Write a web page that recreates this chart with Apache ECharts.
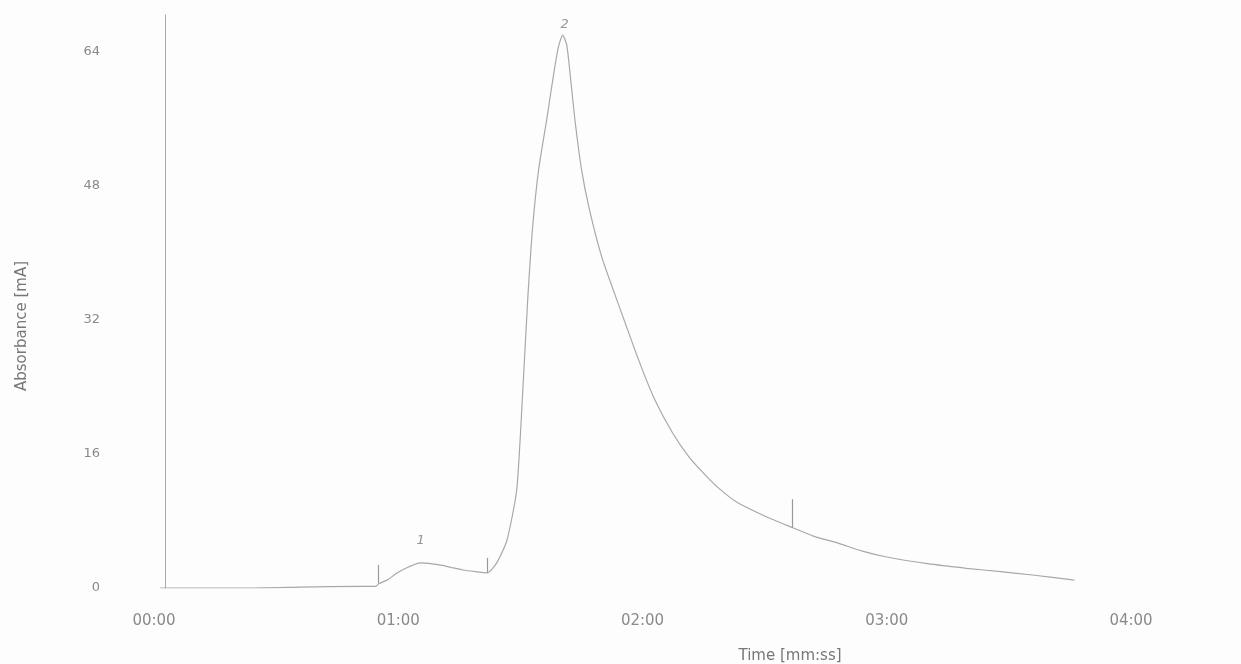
<!DOCTYPE html>
<html>
<head>
<meta charset="utf-8">
<script src="https://cdn.jsdelivr.net/npm/echarts@6/dist/echarts.min.js"></script>
<style>
html,body{margin:0;padding:0;background:#fdfdfd;}
#chart{width:1241px;height:664px;}
</style>
</head>
<body>
<div id="chart"></div>
<script>
// Time in seconds, absorbance in mA
var times = [1.5, 24, 36, 50, 54.5, 55.2, 57.5, 59.7, 62.5, 65.3, 67.5, 70.2, 73, 75.9, 79, 81.8,
  84.2, 86.7, 89.1, 90.6, 91.8, 93.0, 94.5, 96.5, 98.0, 99.3, 100.4, 101.4, 102.4, 103.4, 105, 107.0,
  110, 113.7, 119.3, 123, 127.4, 131.5, 135.8, 139, 143, 150, 156.9, 162, 168.4, 174, 180, 190, 199.6,
  208, 215.8, 226.1];
var absorbance = [0, 0, 0.1, 0.2, 0.2, 0.5, 1.0, 1.8, 2.5, 3.0, 2.95, 2.75, 2.45, 2.15, 1.95, 1.8,
  3.0, 5.7, 11.7, 23.6, 34.4, 43.0, 50.0, 56.0, 60.8, 64.5, 66.0, 64.8, 60.5, 55.9, 50.0, 45.1,
  39.5, 34.4, 26.9, 22.5, 18.5, 15.6, 13.3, 11.8, 10.3, 8.6, 7.2, 6.2, 5.3, 4.4, 3.7, 2.9, 2.35,
  1.95, 1.55, 0.95];
// integration markers: [time, bottom value, top value]
var markers = [[55.2, 0.6, 2.75], [81.8, 1.8, 3.6], [156.9, 7.2, 10.6]];
// peak labels: [time, value, text]
var peakLabels = [[65.5, 5.6, '1'], [100.9, 67.3, '2']];
var xTicks = ['00:00', '01:00', '02:00', '03:00', '04:00'];
var yTicks = [0, 16, 32, 48, 64];

var lineData = times.map(function (t, i) { return [t, absorbance[i]]; });
var markerLines = markers.map(function (m) {
  return [{ coord: [m[0], m[1]] }, { coord: [m[0], m[2]] }];
});
var labelData = peakLabels.map(function (p) { return { value: [p[0], p[1]], name: p[2] }; });

var txt = '#8a8a8a';
var chart = echarts.init(document.getElementById('chart'));
chart.setOption({
  backgroundColor: '#fdfdfd',
  animation: false,
  grid: { left: 154, right: 110, top: 15, bottom: 76 },
  xAxis: {
    type: 'value', min: 0, max: 240, interval: 60,
    axisLine: { show: false }, axisTick: { show: false }, splitLine: { show: false },
    axisLabel: {
      margin: 26, color: txt, fontFamily: 'DejaVu Sans', fontSize: 15,
      formatter: function (v) { return xTicks[Math.round(v / 60)]; }
    }
  },
  yAxis: {
    type: 'value', min: 0, max: 68.4, interval: 16, offset: -11,
    axisLine: { show: true, lineStyle: { color: '#a8a8a8', width: 1 } },
    axisTick: { show: false }, splitLine: { show: false },
    axisLabel: {
      margin: 65, color: txt, fontFamily: 'DejaVu Sans', fontSize: 13, showMaxLabel: false,
      formatter: function (v) { return yTicks.indexOf(v) >= 0 ? String(v) : ''; }
    }
  },
  graphic: [
    { type: 'text', x: 22, y: 326, rotation: Math.PI / 2,
      style: { text: 'Absorbance [mA]', fill: '#777', font: '15px "DejaVu Sans"', align: 'center', verticalAlign: 'middle' } },
    { type: 'text', x: 790, y: 656,
      style: { text: 'Time [mm:ss]', fill: '#777', font: '15px "DejaVu Sans"', align: 'center', verticalAlign: 'middle' } }
  ],
  series: [
    {
      type: 'line', data: lineData, showSymbol: false, smooth: 0.2,
      lineStyle: { color: '#a8a8a8', width: 1.2 },
      markLine: {
        silent: true, symbol: 'none', label: { show: false },
        lineStyle: { color: '#9a9a9a', width: 1.2, type: 'solid' },
        data: markerLines
      }
    },
    {
      type: 'scatter', data: labelData, symbolSize: 0,
      label: {
        show: true, position: 'inside', formatter: '{b}', color: '#7a7a7a',
        fontFamily: 'DejaVu Sans', fontSize: 13, fontStyle: 'italic'
      }
    }
  ]
});
</script>
</body>
</html>
